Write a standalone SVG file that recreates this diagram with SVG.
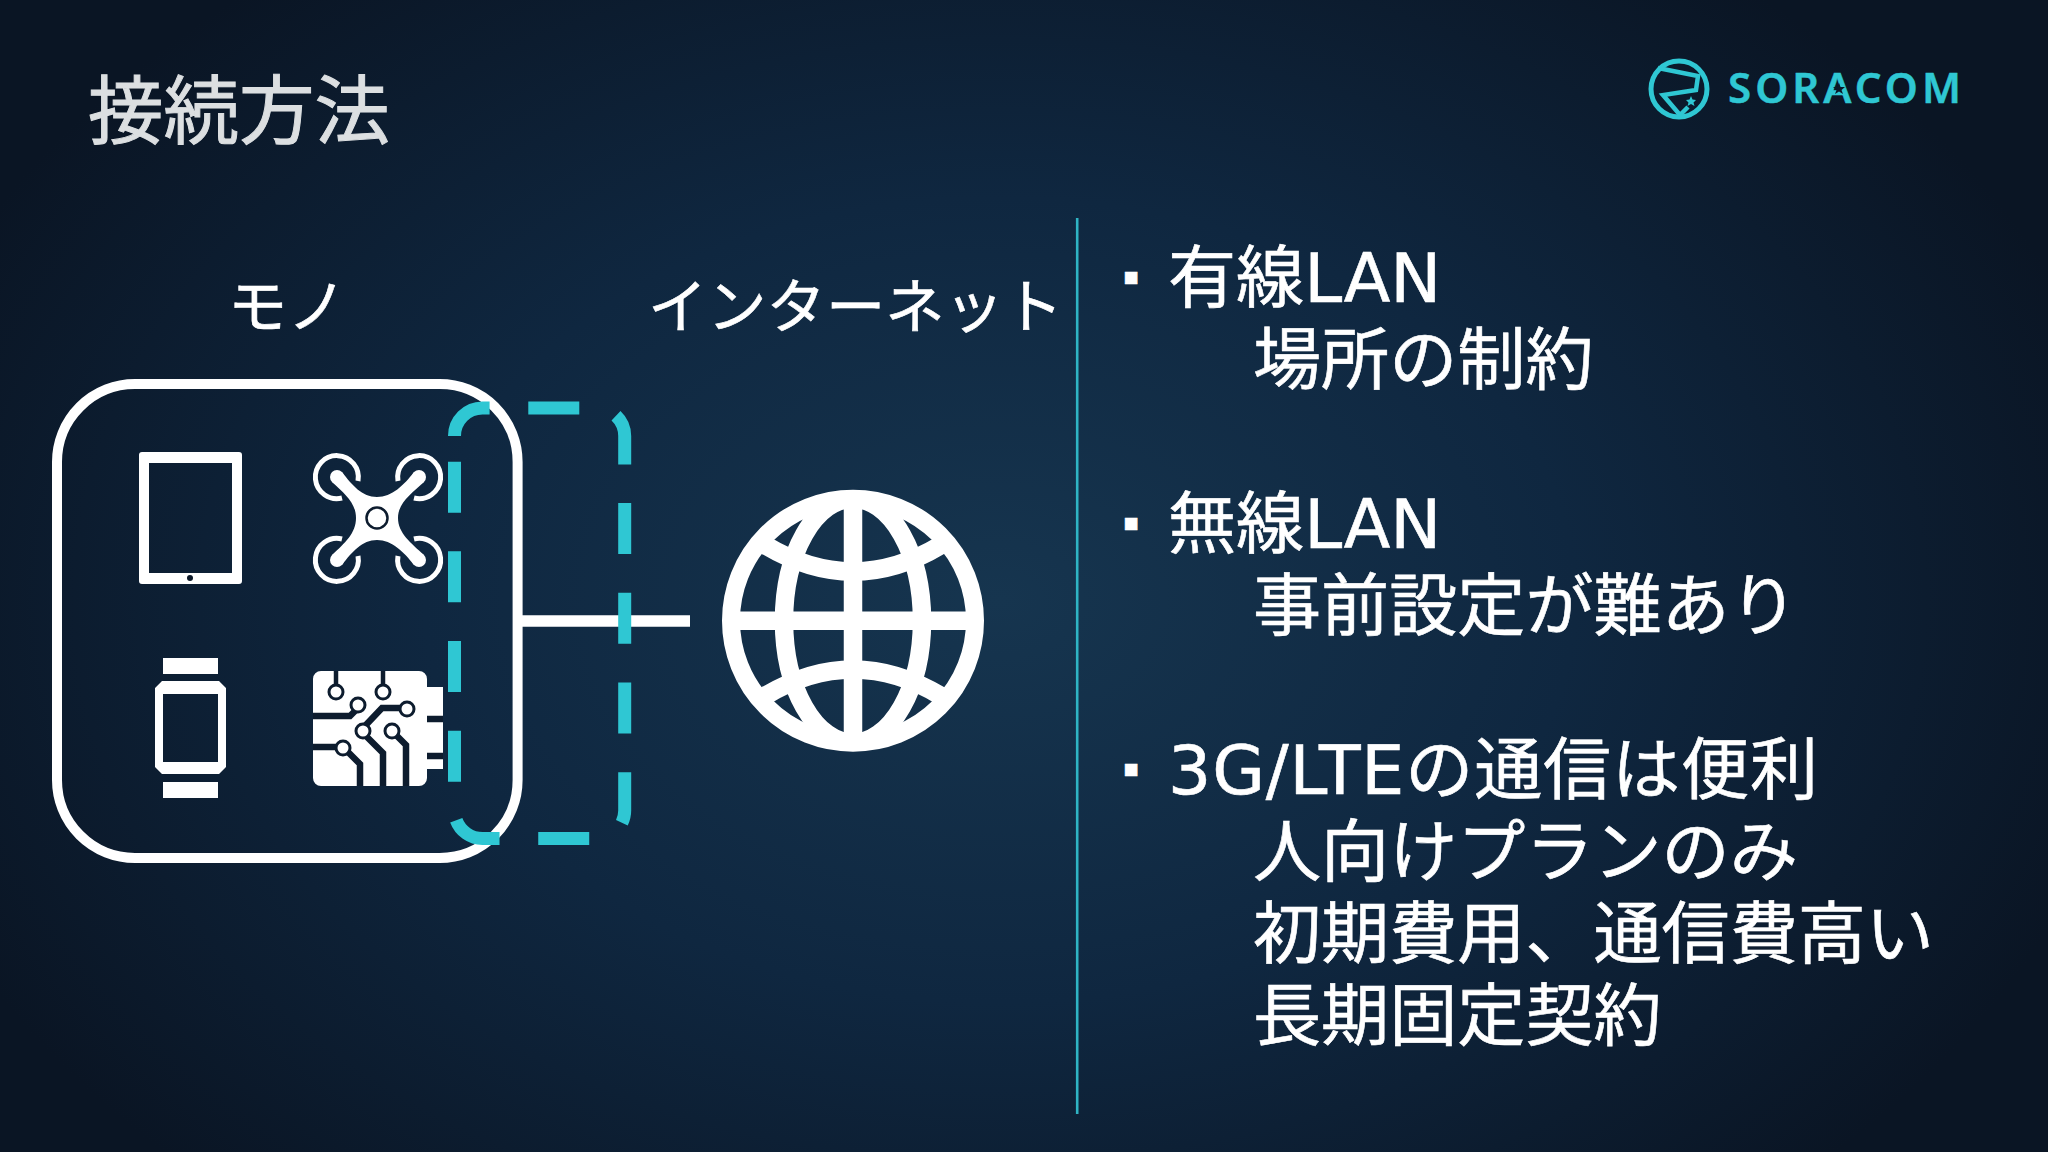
<svg xmlns="http://www.w3.org/2000/svg" width="2048" height="1152" viewBox="0 0 2048 1152">
<defs>
<radialGradient id="bg" gradientUnits="userSpaceOnUse" cx="1000" cy="600" r="1150" gradientTransform="translate(0 180) scale(1 0.7)">
<stop offset="0" stop-color="#16354f"/><stop offset="0.5" stop-color="#0f2740"/><stop offset="1" stop-color="#0a1524"/>
</radialGradient>
<clipPath id="gc"><circle cx="853" cy="620.7" r="128"/></clipPath>
</defs>
<style>
text{font-family:"DejaVu Sans","Noto Sans CJK JP",sans-serif;fill:#fff;stroke:#fff;stroke-width:.6px}
.b{font-size:68.1px}
.s{font-size:24px}
.h{font-size:59.3px}
.w{fill:#fff}
.wl{fill:none;stroke:#fff}
.d{fill:none;stroke:#0d1c2e}
.c{fill:#2fc7d3}
</style>
<rect width="2048" height="1152" fill="url(#bg)"/>
<text id="title" x="88" y="138" font-size="75.5" style="fill:#dcdfe1;stroke:#dcdfe1;stroke-width:1px">接続方法</text>
<g id="logo">
<circle cx="1679" cy="89" r="28" fill="none" stroke="#2fc7d3" stroke-width="5"/>
<path d="M1658 68L1698 76L1696 90L1663 95L1680 115L1688 107" fill="none" stroke="#2fc7d3" stroke-width="4.5"/>
<polygon class="c" points="1691,96 1692.5,99.5 1696,100 1693.5,102.5 1694.5,106 1691,104 1687.5,106 1688.5,102.5 1686,100 1689.5,99.5"/>
<text x="1728" y="103" font-size="42" font-weight="600" textLength="233" style="font-family:'Noto Sans',sans-serif;fill:#2fc7d3;stroke:#2fc7d3;stroke-width:.5px">SORACOM</text>
<polygon fill="#0b1828" points="1839,83 1840.5,87 1845,87 1841.5,90 1843,94 1839,91.5 1835,94 1836.5,90 1833,87 1837.5,87"/>
</g>
<line x1="1077.2" y1="218" x2="1077.2" y2="1114" stroke="#2fb4c4" stroke-width="2.6"/>
<text id="label-mono" x="228" y="328" class="h">モノ</text>
<text id="label-inet" x="648" y="328" class="h">インターネット</text>
<g id="list">
<text x="1123" y="284" class="s">▪</text><text x="1168" y="302" class="b">有線LAN</text>
<text x="1253" y="384" class="b">場所の制約</text>
<text x="1123" y="530" class="s">▪</text><text x="1168" y="548" class="b">無線LAN</text>
<text x="1253" y="630" class="b">事前設定が難あり</text>
<text x="1123" y="776" class="s">▪</text><text x="1168" y="794" class="b" textLength="650" lengthAdjust="spacing">3G/LTEの通信は便利</text>
<text x="1253" y="876" class="b">人向けプランのみ</text>
<text x="1253" y="958" class="b">初期費用、通信費高い</text>
<text x="1253" y="1040" class="b">長期固定契約</text>
</g>
<g id="connectors">
<line x1="522" y1="621" x2="690" y2="621" stroke="#fff" stroke-width="11.5"/>
</g>
<g id="things">
<rect x="57" y="384" width="460.6" height="474" rx="78" fill="none" stroke="#fff" stroke-width="10"/>
</g>
<g id="tablet">
<path class="w" fill-rule="evenodd" d="M142 452H239a3 3 0 0 1 3 3V581a3 3 0 0 1-3 3H142a3 3 0 0 1-3-3V455a3 3 0 0 1 3-3ZM149 463V573H232V463Z"/>
<circle cx="190" cy="578" r="3" fill="#0b1828"/>
</g>
<g id="drone">
<g class="wl" stroke-width="5">
<path d="M358 481A21.5 21.5 0 1 0 342 498"/>
<path d="M398 481A21.5 21.5 0 1 1 414 498"/>
<path d="M358 556A21.5 21.5 0 1 1 342 539"/>
<path d="M398 556A21.5 21.5 0 1 0 414 539"/>
</g>
<path class="w" d="M342 472C352 485 362 497 377 497C392 497 404 485 414 472L424 482C411 494 398 503 398 518C398 533 411 543 424 555L414 565C404 552 392 540 377 540C362 540 352 552 342 565L332 555C345 543 356 533 356 518C356 503 345 494 332 482Z"/>
<g class="w"><circle cx="337" cy="477" r="7"/><circle cx="419" cy="477" r="7"/><circle cx="337" cy="560" r="7"/><circle cx="419" cy="560" r="7"/></g>
<circle cx="377" cy="518" r="10.5" fill="#fff" stroke="#0d1c2e" stroke-width="2.5"/>
</g>
<g id="watch">
<rect class="w" x="163" y="658" width="55" height="16"/>
<rect class="w" x="163" y="782" width="55" height="16"/>
<path class="w" fill-rule="evenodd" d="M162 681H219L226 688V767L219 774H162L155 767V688ZM163 694V762H218V694Z"/>
</g>
<g id="chip">
<path class="w" d="M321 671H419a8 8 0 0 1 8 8V687H443V769H427V778a8 8 0 0 1-8 8H321a8 8 0 0 1-8-8V679a8 8 0 0 1 8-8Z"/>
<g class="d" stroke-width="6.5">
<path d="M336 671V686" stroke-width="4.5"/><path d="M383 671V686" stroke-width="4.5"/>
<path d="M313 716H350L358 708"/>
<path d="M313 747H343"/><path d="M346 750L360 764V786"/>
<path d="M363 728L382 708H407"/>
<path d="M363 733L383 753V786"/>
<path d="M394 733L406 745V786"/>
<path d="M427 719H443"/><path d="M427 756H443"/>
</g>
<g fill="#fff" stroke="#0d1c2e" stroke-width="3">
<circle cx="336" cy="692" r="7"/><circle cx="383" cy="692" r="7"/>
<circle cx="358" cy="705" r="7"/><circle cx="407" cy="709" r="7"/>
<circle cx="363" cy="731" r="7"/><circle cx="392" cy="731" r="7"/>
<circle cx="343" cy="748" r="7"/>
</g>
</g>
<g id="globe">
<circle cx="853" cy="620.7" r="122" fill="none" stroke="#fff" stroke-width="18"/>
<g class="wl" stroke-width="18.5" clip-path="url(#gc)">
<ellipse cx="853" cy="620.7" rx="69" ry="122"/>
<path d="M853 495V746M725 620.7H981"/>
<path d="M765 545Q853 598 941 545"/>
<path d="M765 696Q853 643 941 696"/>
</g>
</g>
<g id="dashed">
<path d="M454.5 436A28 28 0 0 1 482.5 408H596.7A28 28 0 0 1 624.7 436V810.5A28 28 0 0 1 596.7 838.5H482.5A28 28 0 0 1 454.5 810.5Z" fill="none" stroke="#2fc7d3" stroke-width="13" stroke-dasharray="51 38.7"/>
</g>
</svg>
